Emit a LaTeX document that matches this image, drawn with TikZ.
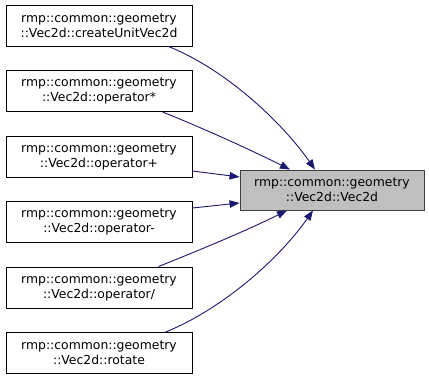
\documentclass[tikz,border=0pt]{standalone}
\usepackage{fontspec}
\setmainfont{DejaVu Sans}
\usetikzlibrary{arrows.meta}
\definecolor{edgeblue}{HTML}{191970}
\definecolor{focusfill}{HTML}{BFBFBF}
\definecolor{focusline}{HTML}{404040}
\tikzset{
  fn/.style={draw=black, fill=white, line width=0.9pt, minimum width=186pt,
    minimum height=41pt, inner sep=0pt, align=center,
    font=\fontsize{12.4}{15}\selectfont},
  focus/.style={fn, draw=focusline, fill=focusfill, minimum width=184pt, minimum height=40pt},
  edge/.style={draw=edgeblue, line width=0.9pt,
    -{Triangle[length=10pt,width=7.5pt]}}
}
\begin{document}
\begin{tikzpicture}[x=1pt,y=-1pt]
  \useasboundingbox (0,0) rectangle (429,379);
  % callers
  \node[fn] (cu)  at (99,25.5)  {rmp::common::geometry\\::Vec2d::createUnitVec2d};
  \node[fn] (mul) at (99,91)    {rmp::common::geometry\\::Vec2d::operator*};
  \node[fn] (add) at (99,156.5) {rmp::common::geometry\\::Vec2d::operator+};
  \node[fn] (sub) at (99,222)   {rmp::common::geometry\\::Vec2d::operator-};
  \node[fn] (dvd) at (99,287.5) {rmp::common::geometry\\::Vec2d::operator/};
  \node[fn] (rot) at (99,353)   {rmp::common::geometry\\::Vec2d::rotate};
  % called function
  \node[focus] (ctor) at (332,190) {rmp::common::geometry\\::Vec2d::Vec2d};
  % call edges
  \draw[edge] ([xshift=-24pt]cu.south east) .. controls +(55,22) and +(-35,-50) .. ([xshift=-17pt]ctor.north);
  \draw[edge] ([xshift=-30pt]mul.south east) .. controls +(40,16) and +(-40,-20) .. ([xshift=-42pt]ctor.north);
  \draw[edge] ([yshift=-14.5pt]add.east) -- ([yshift=13pt]ctor.west);
  \draw[edge] ([yshift=14pt]sub.east) -- ([yshift=-13pt]ctor.west);
  \draw[edge] ([xshift=-34pt]dvd.north east) .. controls +(40,-16) and +(-40,20) .. ([xshift=-45pt]ctor.south);
  \draw[edge] ([xshift=-27pt]rot.north east) .. controls +(55,-22) and +(-35,50) .. ([xshift=-19pt]ctor.south);
\end{tikzpicture}
\end{document}
